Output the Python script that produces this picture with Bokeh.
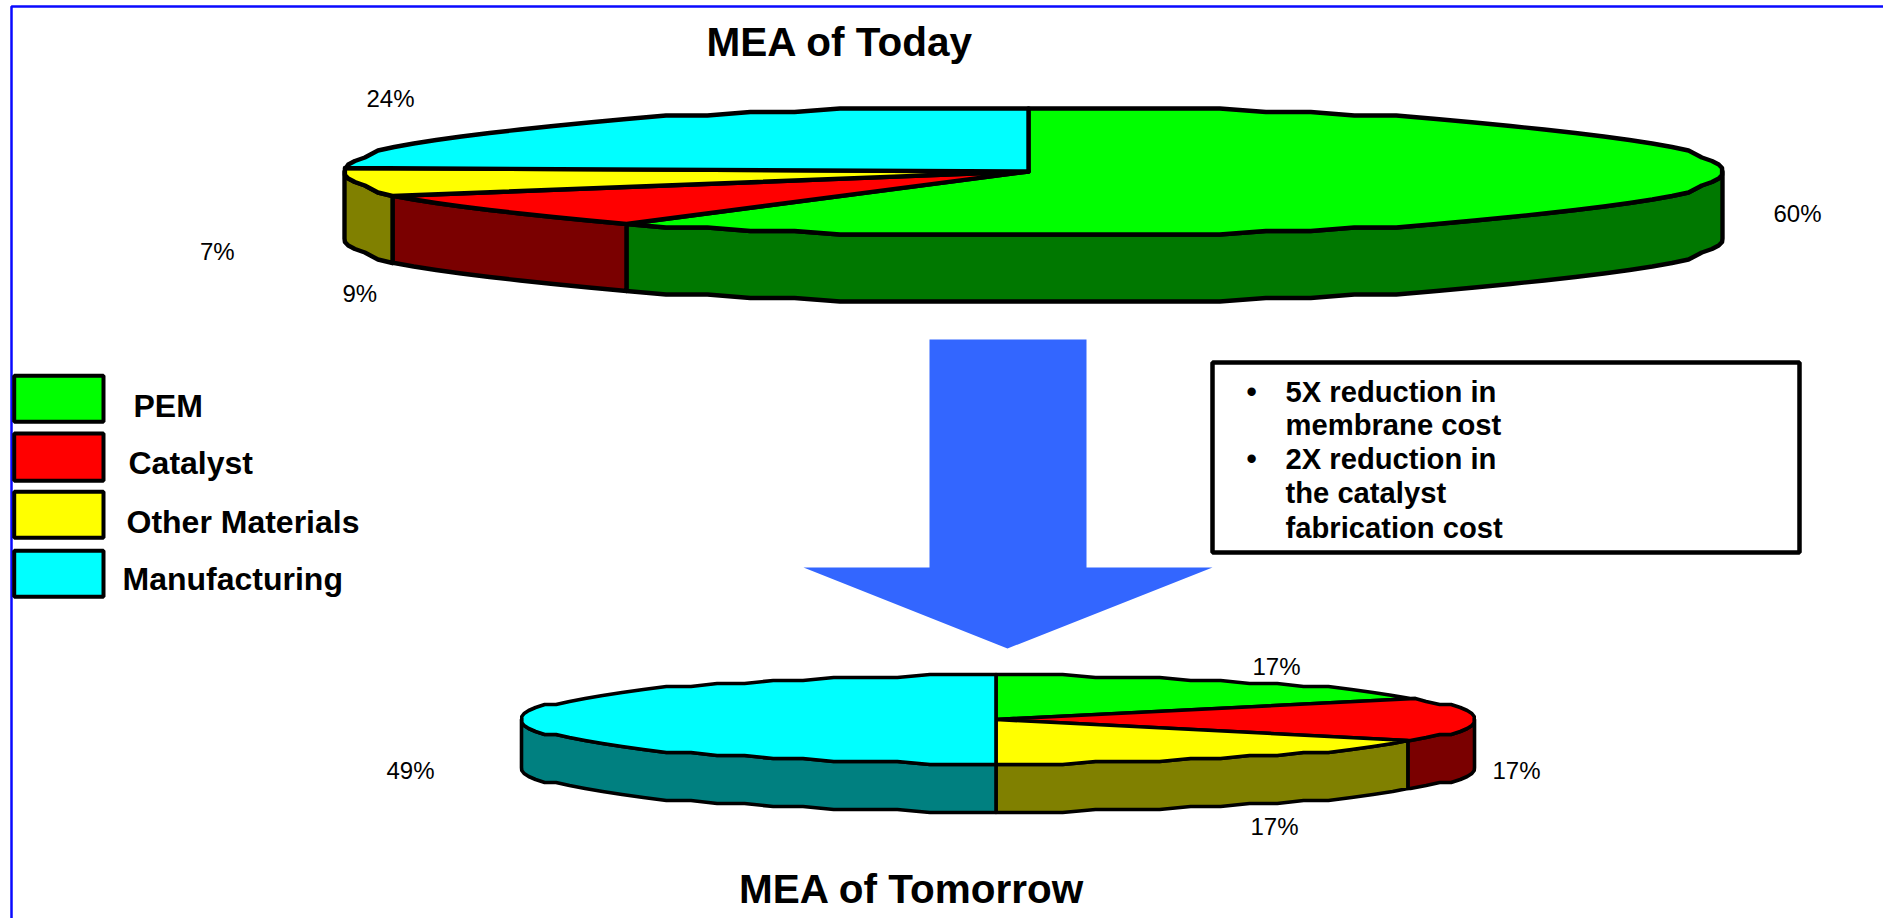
import math
from bokeh.plotting import figure
from bokeh.models import Range1d
from bokeh.core.properties import value
from bokeh.embed import file_html
from bokeh.resources import INLINE

# ---- data ----
categories = ["PEM", "Catalyst", "Other Materials", "Manufacturing"]
today_values = [60, 9, 7, 24]
tomorrow_values = [17, 16.5, 16.5, 50]   # slice geometry as seen in the picture
today_labels = ["60%", "9%", "7%", "24%"]
tomorrow_labels = ["17%", "17%", "17%", "49%"]
box_lines = ["5X reduction in", "membrane cost", "2X reduction in", "the catalyst", "fabrication cost"]
box_bullets = [True, False, True, False, False]

top_colors = ["#00ff00", "#ff0000", "#ffff00", "#00ffff"]
side_colors = ["#007800", "#7a0000", "#808000", "#008080"]

W, H = 1883, 918
p = figure(width=W, height=H, x_range=Range1d(0, W), y_range=Range1d(H, 0),
           output_backend="svg", toolbar_location=None, min_border=0)
p.axis.visible = False
p.grid.visible = False
p.outline_line_color = None
p.background_fill_color = "white"
p.border_fill_color = "white"

FONT = value("Liberation Sans")
BASE = 0.36  # baseline correction as a share of the font size


def label(xs, ys, texts, size, bold=False):
    p.text(xs, [y - BASE * size for y in ys], text=texts, text_font=FONT,
           text_font_style="bold" if bold else "normal", text_font_size=f"{size}px",
           text_baseline="alphabetic", text_align="left", text_color="black")


# page frame
p.line([1883, 11, 11], [6, 6, 918], line_color="#0a0aff", line_width=2.5)


def draw_pie(values, cx, cy, rl, rr, ry, depth, lw, grid, step):
    def pt(a, dy=0.0):
        r = math.radians(a)
        s, c = math.sin(r), math.cos(r)
        x = cx + s * (rr if s > 0 else rl)
        y = cy + round(-c * ry / grid) * grid
        return x, y + dy

    def arc(a, b):
        n = [a]
        k = math.floor(a / step) + 1
        while k * step < b:
            n.append(k * step)
            k += 1
        n.append(b)
        return n

    total = sum(values)
    start = 0.0
    spans = []
    for v in values:
        end = start + v / total * 360
        spans.append((start, end))
        start = end

    # side walls: only the front half of the disc is visible
    sx, sy, sc = [], [], []
    for (a, b), col in zip(spans, side_colors):
        a2, b2 = max(a, 90), min(b, 270)
        if a2 >= b2:
            continue
        angs = arc(a2, b2)
        upper = [pt(t) for t in angs]
        lower = [pt(t, depth) for t in reversed(angs)]
        sx.append([q[0] for q in upper + lower])
        sy.append([q[1] for q in upper + lower])
        sc.append(col)
    p.patches(sx, sy, fill_color=sc, line_color="black", line_width=lw, line_join="round")

    # top face
    tx, ty = [], []
    for a, b in spans:
        pts = [pt(t) for t in arc(a, b)]
        tx.append([cx] + [q[0] for q in pts])
        ty.append([cy] + [q[1] for q in pts])
    p.patches(tx, ty, fill_color=top_colors, line_color="black", line_width=lw, line_join="round")


draw_pie(today_values, 1028, 171, 684, 694, 64.5, 67, 4.4, 3.5, 4)
draw_pie(tomorrow_values, 995.5, 719, 474.5, 478.5, 44, 48, 3.6, 3.0, 4)

# arrow
p.patch([929, 1086, 1086, 1212, 1007, 803, 929], [339, 339, 567, 567, 648, 567, 567],
        fill_color="#3366ff", line_color=None)

# text box
p.quad(left=[1212], right=[1799], top=[362], bottom=[552],
       fill_color="white", line_color="black", line_width=4.5)
box_y = [401.7, 435.5, 469.5, 503.5, 537.7]
label([1285] * 5, box_y, box_lines, 29.2, bold=True)
label([1246] * 2, [y for y, b in zip(box_y, box_bullets) if b], ["•", "•"], 29.2, bold=True)

# legend
leg_top = [375.3, 433, 491.3, 550.3]
leg_bot = [421.3, 480.3, 537.3, 596.3]
p.quad(left=[13.7] * 4, right=[103] * 4, top=leg_top, bottom=leg_bot,
       fill_color=top_colors, line_color="black", line_width=4)
label([133, 128, 126, 122], [417, 474.5, 533, 590], categories, 32, bold=True)

# titles
label([706, 738.5], [55.6, 903], ["MEA of Today", "MEA of Tomorrow"], 40.5, bold=True)

# percentage labels
label([1773, 342, 199.5, 366], [222, 301.5, 259.5, 106.5], today_labels, 24)
label([1252, 1492, 1250, 386], [674.5, 779, 834.5, 779], tomorrow_labels, 24)

open("out.html", "w").write(file_html(p, INLINE))
